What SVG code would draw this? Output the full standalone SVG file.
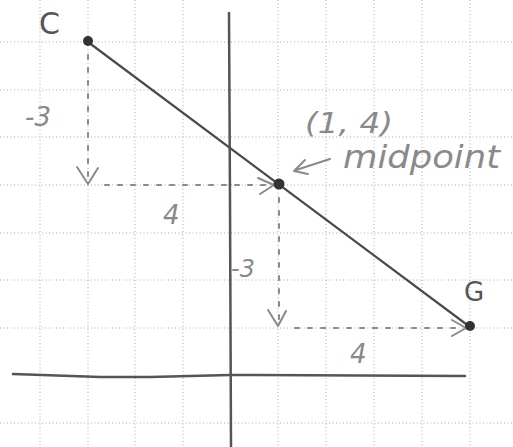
<svg xmlns="http://www.w3.org/2000/svg" width="513" height="447" viewBox="0 0 513 447">
<defs>
<style>
.grid line{stroke:#aaa;stroke-width:1;stroke-dasharray:1 2.5}
.axis{stroke:#555;stroke-width:2.5;fill:none;stroke-linecap:round}
.seg{stroke:#4a4a4a;stroke-width:2.2;fill:none}
.dash{stroke:#8a8a8a;stroke-width:2;fill:none;stroke-dasharray:4 9;stroke-linecap:round}
.head{stroke:#8a8a8a;stroke-width:2;fill:none;stroke-linecap:round;stroke-linejoin:round}
.pt{fill:#333}
.lbl{font-family:"DejaVu Sans","Liberation Sans",sans-serif;fill:#8a8a8a;font-style:italic}
.name{font-family:"DejaVu Sans","Liberation Sans",sans-serif;fill:#555}
</style>
</defs>
<rect width="513" height="447" fill="#fff"/>
<g class="grid">
<line x1="40" y1="0" x2="40" y2="447"/>
<line x1="88" y1="0" x2="88" y2="447"/>
<line x1="135" y1="0" x2="135" y2="447"/>
<line x1="183" y1="0" x2="183" y2="447"/>
<line x1="278" y1="0" x2="278" y2="447"/>
<line x1="326" y1="0" x2="326" y2="447"/>
<line x1="374" y1="0" x2="374" y2="447"/>
<line x1="422" y1="0" x2="422" y2="447"/>
<line x1="470" y1="0" x2="470" y2="447"/>
<line x1="0" y1="42" x2="513" y2="42"/>
<line x1="0" y1="90" x2="513" y2="90"/>
<line x1="0" y1="137" x2="513" y2="137"/>
<line x1="0" y1="185" x2="513" y2="185"/>
<line x1="0" y1="233" x2="513" y2="233"/>
<line x1="0" y1="280" x2="513" y2="280"/>
<line x1="0" y1="328" x2="513" y2="328"/>
<line x1="0" y1="423" x2="513" y2="423"/>
</g>
<g id="axes">
<path class="axis" d="M229 13 L230 200 L231 447"/>
<path class="axis" d="M13 374 L100 377 L150 377 L230 375 L465 376" stroke-width="3.5" stroke="#666"/>
</g>
<g id="connectors">
<line class="seg" x1="88" y1="42" x2="470" y2="327"/>
<line class="dash" x1="88" y1="55" x2="88" y2="178"/>
<path class="head" d="M77 167 L88 184 L98 168"/>
<line class="dash" x1="105" y1="185" x2="268" y2="185"/>
<path class="head" d="M258 178 L274 185 L260 194"/>
<line class="dash" x1="279" y1="198" x2="279" y2="320"/>
<path class="head" d="M268 310 L278 326 L286 311"/>
<line class="dash" x1="295" y1="328" x2="458" y2="328"/>
<path class="head" d="M452 320 L466 328 L452 336"/>
<path class="head" d="M330 159 L296 170 M305 160 L294 171 L308 174"/>
</g>
<g id="C">
<circle class="pt" cx="88" cy="41" r="5"/>
<text class="name" x="39" y="34" font-size="30">C</text>
</g>
<g id="midpoint">
<circle class="pt" cx="279" cy="184" r="5.5"/>
<text class="lbl" x="305" y="133" font-size="28" textLength="88" lengthAdjust="spacingAndGlyphs">(1, 4)</text>
<text class="lbl" x="343" y="168" font-size="32" textLength="157" lengthAdjust="spacingAndGlyphs">midpoint</text>
</g>
<g id="G">
<circle class="pt" cx="470" cy="326" r="5"/>
<text class="name" x="464" y="301" font-size="26">G</text>
</g>
<g id="labels">
<text class="lbl" x="25" y="126" font-size="26">-3</text>
<text class="lbl" x="163" y="224" font-size="26">4</text>
<text class="lbl" x="231" y="277" font-size="24">-3</text>
<text class="lbl" x="350" y="363" font-size="26">4</text>
</g>
</svg>
